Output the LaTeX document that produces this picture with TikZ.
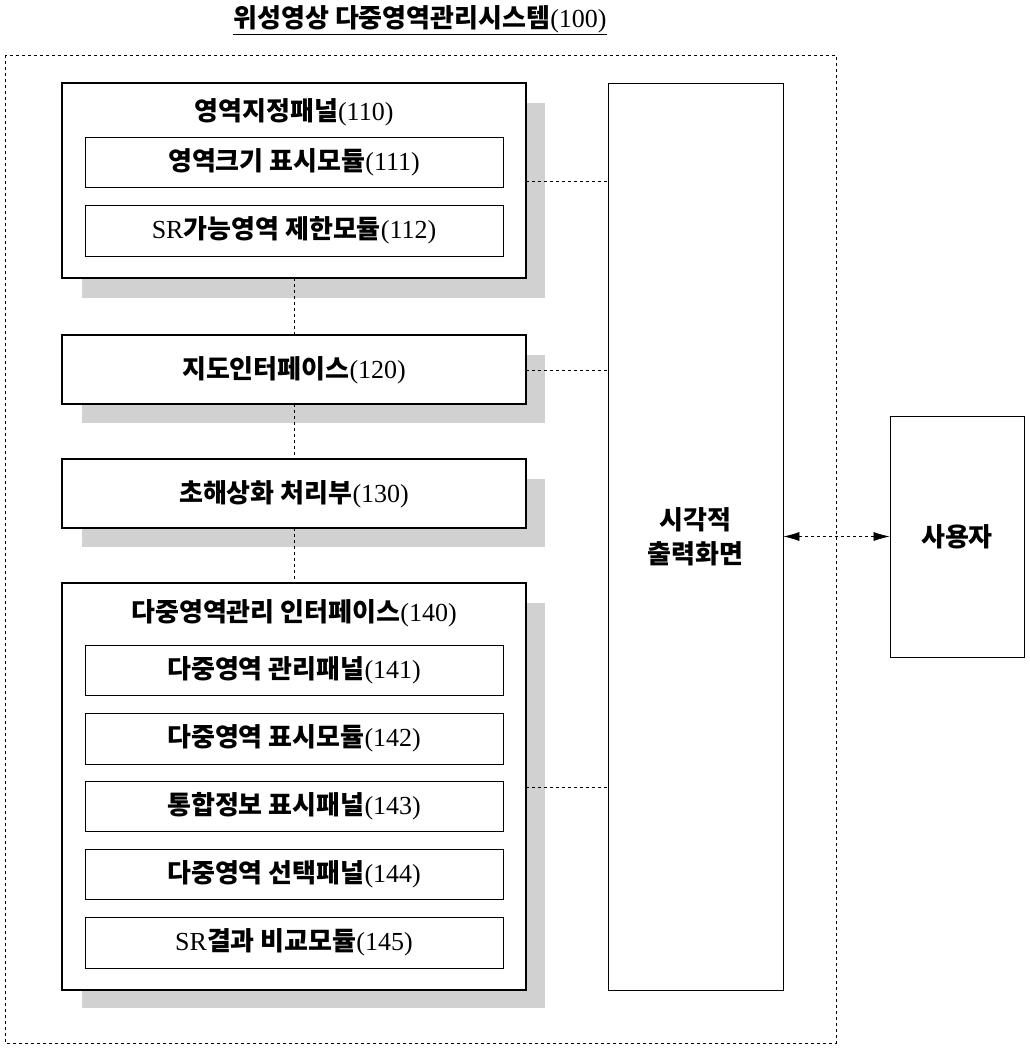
\documentclass[tikz,border=0pt]{standalone}
\usepackage{fontspec}
\setmainfont{Liberation Serif}
\newfontfamily\kr{Noto Sans CJK KR}
\usetikzlibrary{positioning}
\usetikzlibrary{arrows.meta}
\newcommand{\kt}[1]{{\kr\bfseries #1}}

\begin{document}
\begin{tikzpicture}[x=1pt,y=-1pt,font=\fontsize{26}{34}\selectfont,
			link/.style={dashed,semithick}]
			\tikzset{
				panel/.style={draw,line width=2.5pt,fill=white},
				shade/.style={fill=black!18},
				item/.style={draw,thick,fill=white},
			}
			\useasboundingbox (0,0) rectangle (1030,1049);
			
			\node (title) at (420,20) {\underline{\kt{위성영상 다중영역관리시스템}(100)}};
			\draw[dashed,thick] (5,55) rectangle (836,1043);
			
			% shadows
			\fill[shade] (82,103) rectangle (545,298);
			\fill[shade] (82,355) rectangle (545,423);
			\fill[shade] (82,479) rectangle (545,547);
			\fill[shade] (82,603) rectangle (545,1008);
			
			% panels
			\draw[panel] (62,83) rectangle (526,278);
			\node (p110) at (294,112) {\kt{영역지정패널}(110)};
			\draw[item] (85,137) rectangle (503,187);
			\node (m111) at (294,162) {\kt{영역크기 표시모듈}(111)};
			\draw[item] (85,205) rectangle (503,256);
			\node (m112) at (294,230) {SR\kt{가능영역 제한모듈}(112)};
			
			\draw[panel] (62,335) rectangle (526,404);
			\node (p120) at (294,370) {\kt{지도인터페이스}(120)};
			
			\draw[panel] (62,459) rectangle (526,528);
			\node (p130) at (294,494) {\kt{초해상화 처리부}(130)};
			
			\draw[panel] (62,583) rectangle (526,990);
			\node (p140) at (294,613) {\kt{다중영역관리 인터페이스}(140)};
			\draw[item] (85,645) rectangle (503,695);
			\node (m141) at (294,670) {\kt{다중영역 관리패널}(141)};
			\draw[item] (85,713) rectangle (503,764);
			\node (m142) at (294,738) {\kt{다중영역 표시모듈}(142)};
			\draw[item] (85,781) rectangle (503,831);
			\node (m143) at (294,806) {\kt{통합정보 표시패널}(143)};
			\draw[item] (85,849) rectangle (503,899);
			\node (m144) at (294,874) {\kt{다중영역 선택패널}(144)};
			\draw[item] (85,917) rectangle (503,968);
			\node (m145) at (294,942) {SR\kt{결과 비교모듈}(145)};
			
			% output screen and user
			\node[draw,thick,minimum width=175,minimum height=907,align=center] (out) at (695.5,536.5) {\kt{시각적}\\\kt{출력화면}};
			\node[draw,thick,minimum width=134,minimum height=241] (user) at (957,536.5) {\kt{사용자}};
			
			% connectors
			\coordinate (b110) at (294,278);
			\coordinate (t120) at (294,335);
			\coordinate (b120) at (294,404);
			\coordinate (t130) at (294,459);
			\coordinate (b130) at (294,528);
			\coordinate (t140) at (294,583);
			\draw[link] (b110) -- (t120);
			\draw[link] (b120) -- (t130);
			\draw[link] (b130) -- (t140);
			\coordinate (r110) at (526,181);
			\coordinate (r120) at (526,370);
			\coordinate (r140) at (526,787);
			\draw[link] (r110) -- (r110 -| out.west);
			\draw[link] (r120) -- (r120 -| out.west);
			\draw[link] (r140) -- (r140 -| out.west);
			\draw[link,{Latex[length=16pt,width=9pt]}-{Latex[length=16pt,width=9pt]}] (out) -- (user);
			\end{tikzpicture}
\end{document}
